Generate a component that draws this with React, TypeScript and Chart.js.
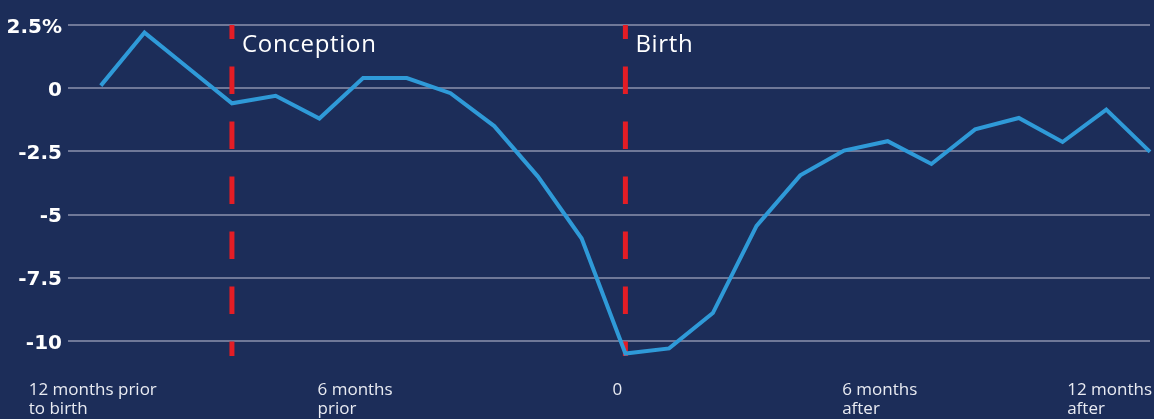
import { useEffect, useRef } from 'react';
import { Chart, registerables } from 'chart.js';

Chart.register(...registerables);

const months = [-12, -11, -10, -9, -8, -7, -6, -5, -4, -3, -2, -1, 0, 1, 2, 3, 4, 5, 6, 7, 8, 9, 10, 11, 12];
const values = [0.1, 2.2, 0.8, -0.6, -0.3, -1.2, 0.4, 0.4, -0.2, -1.5, -3.5, -5.95, -10.5, -10.3, -8.9, -5.45, -3.45, -2.47, -2.1, -3.0, -1.63, -1.18, -2.13, -0.85, -2.52];
const yTicks = [2.5, 0, -2.5, -5, -7.5, -10];
const xLabelMonths = [-12, -6, 0, 6, 12];
const xLabelLines = [
  ['12 months prior', 'to birth'],
  ['6 months', 'prior'],
  ['0'],
  ['6 months', 'after'],
  ['12 months', 'after'],
];
const eventMonths = [-9, 0];
const eventLabels = ['Conception', 'Birth'];

const BG = '#1c2d59';
const FONT = '"Open Sans", Lato, sans-serif';
const YFONT = '"DejaVu Sans", sans-serif';

export default function App() {
  const ref = useRef<HTMLCanvasElement>(null);

  useEffect(() => {
    document.body.style.margin = '0';
    const canvas = ref.current;
    if (!canvas) return;

    const eventsPlugin = {
      id: 'events',
      beforeDatasetsDraw(chart: any) {
        const { ctx, chartArea, scales } = chart;
        const x = scales.x;
        ctx.save();
        ctx.strokeStyle = '#e31d25';
        ctx.lineWidth = 5;
        ctx.setLineDash([27.5, 27.5]);
        ctx.lineDashOffset = 13.5;
        eventMonths.forEach((m, i) => {
          const px = x.getPixelForValue(m);
          ctx.beginPath();
          ctx.moveTo(px, chartArea.top);
          ctx.lineTo(px, chartArea.bottom);
          ctx.stroke();
          ctx.fillStyle = '#ffffff';
          ctx.font = `24px ${FONT}`;
          (ctx as any).letterSpacing = '0.7px';
          ctx.textAlign = 'left';
          ctx.textBaseline = 'alphabetic';
          ctx.fillText(eventLabels[i], px + 10, 52);
        });
        ctx.restore();
      },
    };

    const xLabelsPlugin = {
      id: 'xlabels',
      afterDraw(chart: any) {
        const { ctx, scales, width } = chart;
        const x = scales.x;
        ctx.save();
        ctx.fillStyle = '#e9ebf2';
        ctx.font = `17px ${FONT}`;
        ctx.textAlign = 'left';
        ctx.textBaseline = 'alphabetic';
        xLabelMonths.forEach((m, i) => {
          const lines = xLabelLines[i];
          const maxW = Math.max(...lines.map((l) => ctx.measureText(l).width));
          let left = x.getPixelForValue(m) - maxW / 2 - 8;
          left = Math.min(left, width - maxW - 2);
          lines.forEach((l, j) => ctx.fillText(l, left, 395 + j * 19));
        });
        ctx.restore();
      },
    };

    const chart = new Chart(canvas, {
      type: 'line',
      data: {
        datasets: [
          {
            data: months.map((m, i) => ({ x: m, y: values[i] })),
            borderColor: '#2f9ad8',
            borderWidth: 4,
            pointRadius: 0,
            tension: 0,
            fill: false,
            clip: false as any,
          },
        ],
      },
      options: {
        animation: false,
        responsive: false,
        maintainAspectRatio: false,
        layout: { padding: { top: 25, right: 4, left: 0, bottom: 0 } },
        plugins: { legend: { display: false }, tooltip: { enabled: false } },
        scales: {
          x: {
            type: 'linear',
            min: -12.75,
            max: 12,
            ticks: { display: false },
            grid: { display: false },
            border: { display: false },
            afterFit(scale: any) {
              scale.height = 63;
            },
          },
          y: {
            min: -10.6,
            max: 2.5,
            afterBuildTicks(scale: any) {
              scale.ticks = yTicks.map((v) => ({ value: v }));
            },
            ticks: {
              color: '#ffffff',
              font: { family: YFONT, size: 20, weight: 'bold' },
              padding: 6,
              labelOffset: 2.5,
              callback: (v: any) => (v === 2.5 ? '2.5%' : String(v)),
            },
            grid: { color: '#6f7898', lineWidth: 2, drawTicks: false },
            border: { display: false },
            afterFit(scale: any) {
              scale.width = 68;
            },
          },
        },
      },
      plugins: [eventsPlugin, xLabelsPlugin],
    });

    return () => chart.destroy();
  }, []);

  return (
    <div style={{ width: 1154, height: 419, background: BG }}>
      <canvas ref={ref} width={1154} height={419} style={{ display: 'block' }} />
    </div>
  );
}
